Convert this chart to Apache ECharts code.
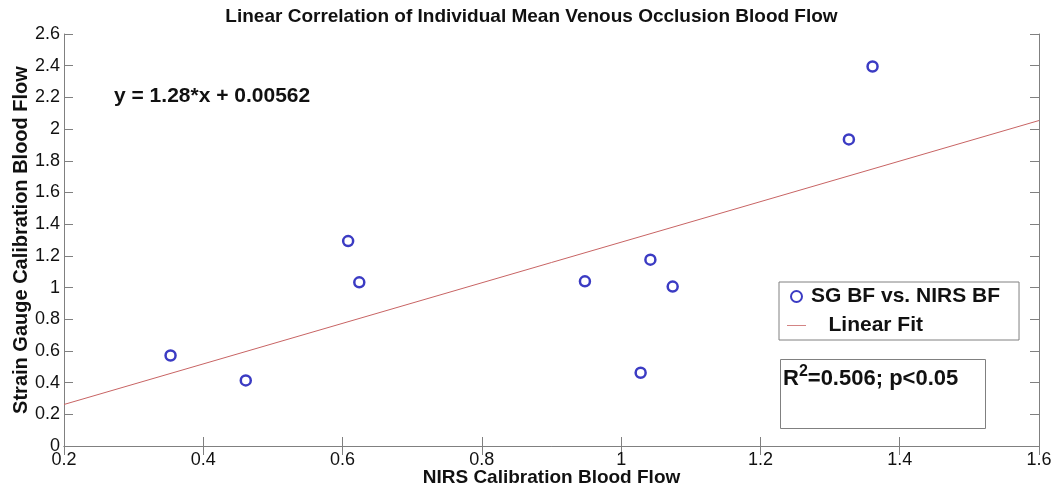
<!DOCTYPE html>
<html>
<head>
<meta charset="utf-8">
<script src="https://cdn.jsdelivr.net/npm/echarts@6/dist/echarts.min.js"></script>
<style>
html, body { margin: 0; padding: 0; background: #fff; }
#main { width: 1063px; height: 488px; }
</style>
</head>
<body>
<div id="main"></div>
<script>
// NIRS vs strain gauge blood flow
var nirsBF = [0.353, 0.461, 0.608, 0.624, 0.948, 1.028, 1.042, 1.074, 1.327, 1.361];
var sgBF   = [0.571, 0.414, 1.293, 1.033, 1.039, 0.462, 1.176, 1.006, 1.935, 2.395];
// linear fit end points
var fitX = [0.2, 1.6];
var fitY = [0.262, 2.054];

var FONT = 'Liberation Sans, Arial, sans-serif';
var AXIS_COLOR = '#808080';
var MARK_BLUE = '#0a0ab4';
var FIT_RED = '#c86464';

var scatterData = nirsBF.map(function (x, i) { return [x, sgBF[i]]; });
var fitData = fitX.map(function (x, i) { return [x, fitY[i]]; });

var chart = echarts.init(document.getElementById('main'));

// shared axis style, ticks inside like matlab
function boxAxis(extra) {
    var ax = {
        type: 'value',
        axisLine: { show: true, lineStyle: { color: AXIS_COLOR, width: 1 } },
        axisTick: { show: true, inside: true, length: 9, lineStyle: { color: AXIS_COLOR } },
        splitLine: { show: false },
        axisLabel: { color: '#111', fontFamily: FONT, fontSize: 18 }
    };
    for (var k in extra) ax[k] = extra[k];
    return ax;
}

var option = {
    backgroundColor: '#fff',
    animation: false,
    title: {
        text: 'Linear Correlation of Individual Mean Venous Occlusion Blood Flow',
        left: 'center',
        top: 2,
        textStyle: { fontFamily: FONT, fontSize: 19, fontWeight: 'bold', color: '#111' }
    },
    grid: { left: 64, right: 24, top: 34, bottom: 42, outerBoundsMode: 'none' },
    xAxis: [
        boxAxis({
            min: 0.2, max: 1.6, interval: 0.2,
            name: 'NIRS Calibration Blood Flow',
            nameLocation: 'middle', nameGap: 22, nameMoveOverlap: false,
            nameTextStyle: { fontFamily: FONT, fontSize: 19, fontWeight: 'bold', color: '#111' },
            axisLabel: { color: '#111', fontFamily: FONT, fontSize: 18, margin: 5 }
        }),
        boxAxis({ position: 'top', min: 0.2, max: 1.6, interval: 0.2, axisLabel: { show: false } })
    ],
    yAxis: [
        boxAxis({
            min: 0, max: 2.6, interval: 0.2,
            name: 'Strain Gauge Calibration Blood Flow',
            nameLocation: 'middle', nameGap: 33, nameMoveOverlap: false,
            nameTextStyle: { fontFamily: FONT, fontSize: 20, fontWeight: 'bold', color: '#111' },
            axisLabel: { color: '#111', fontFamily: FONT, fontSize: 18, margin: 4 }
        }),
        boxAxis({ position: 'right', min: 0, max: 2.6, interval: 0.2, axisLabel: { show: false } })
    ],
    legend: {
        orient: 'vertical',
        left: 779, top: 282,
        padding: [4, 19, 4, 8],
        itemGap: 8,
        itemWidth: 19, itemHeight: 11,
        borderColor: AXIS_COLOR, borderWidth: 1,
        backgroundColor: '#fff',
        textStyle: { fontFamily: FONT, fontSize: 21, fontWeight: 'bold', color: '#111' },
        formatter: function (name) {
            return name === 'Linear Fit' ? '   ' + name : name;
        },
        data: [
            { name: 'SG BF vs. NIRS BF', icon: 'circle' },
            { name: 'Linear Fit', icon: 'path://M0,0 L24,0 L24,1 L0,1 Z' }
        ]
    },
    graphic: [
        {
            type: 'text', left: 114, top: 86,
            style: { text: 'y = 1.28*x + 0.00562', font: 'bold 21px ' + FONT, fill: '#111' }
        },
        {
            type: 'rect', left: 780, top: 359,
            shape: { width: 205, height: 69 },
            style: { fill: '#fff', stroke: AXIS_COLOR, lineWidth: 1 }
        },
        {
            type: 'text', left: 783, top: 364,
            style: {
                text: 'R{sup|2}=0.506; p<0.05',
                font: 'bold 22px ' + FONT, fill: '#111',
                rich: { sup: { fontSize: 16, fontWeight: 'bold', fontFamily: FONT, verticalAlign: 'top', padding: [0, 0, 14, 0] } }
            }
        }
    ],
    series: [
        {
            name: 'SG BF vs. NIRS BF',
            type: 'scatter',
            symbol: 'circle',
            symbolSize: 10,
            itemStyle: { color: '#fff', borderColor: MARK_BLUE, borderWidth: 2.5 },
            data: scatterData,
            z: 3
        },
        {
            name: 'Linear Fit',
            type: 'line',
            showSymbol: false,
            symbol: 'none',
            lineStyle: { color: FIT_RED, width: 1 },
            itemStyle: { color: FIT_RED },
            data: fitData,
            z: 2
        }
    ]
};

chart.setOption(option);
</script>
</body>
</html>
